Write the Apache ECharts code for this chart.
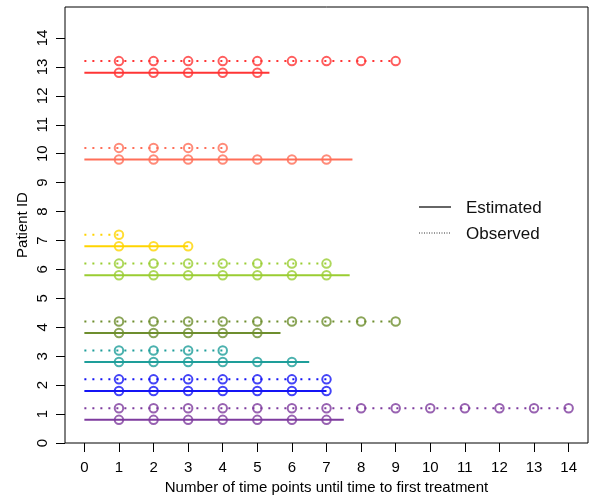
<!DOCTYPE html>
<html>
<head>
<meta charset="utf-8">
<script src="https://cdn.jsdelivr.net/npm/echarts@6/dist/echarts.min.js"></script>
<style>html,body{margin:0;padding:0;background:#fff;}#c{width:589px;height:497px;}</style>
</head>
<body>
<div id="c"></div>
<script>
const patientIds = [1, 2, 3, 4, 6, 7, 10, 13];
const estimatedEnd = [7.5, 7.0, 6.5, 5.67, 7.67, 3.0, 7.75, 5.35];
const estimatedPoints = [7, 7, 6, 5, 7, 3, 7, 5];
const observedEnd = [14, 7, 4, 9, 7, 1, 4, 9];
const xTicks = [0,1,2,3,4,5,6,7,8,9,10,11,12,13,14];
const yTicks = [0,1,2,3,4,5,6,7,8,9,10,11,12,13,14];
const legendNames = ['Estimated', 'Observed'];

const colors = ['#7E3B9E', '#1414F5', '#1E9E9A', '#6E8E2E', '#9ACD32', '#FFD400', '#FF6E58', '#FF3535'];
const FONT = 'Liberation Sans, Arial, sans-serif';
const off = 0.2;

const series = [];
patientIds.forEach((id, i) => {
  const c = colors[i];
  const yE = id - off, yO = id + off;
  series.push({
    type: 'line', silent: true, showSymbol: false, symbol: 'none',
    data: [[0, yE], [estimatedEnd[i], yE]],
    lineStyle: { color: c, width: 2 }, z: 2
  });
  const ep = [];
  for (let k = 1; k <= estimatedPoints[i]; k++) ep.push([k, yE]);
  series.push({
    type: 'scatter', silent: true, symbol: 'circle', symbolSize: 8.5,
    data: ep, itemStyle: { color: 'rgba(0,0,0,0)', borderColor: c, borderWidth: 2 }, z: 3
  });
  series.push({
    type: 'line', silent: true, showSymbol: false, symbol: 'none',
    data: [[0, yO], [observedEnd[i], yO]],
    lineStyle: { color: c, width: 2, type: [2, 6] }, z: 2
  });
  const op = [];
  for (let k = 1; k <= observedEnd[i]; k++) op.push([k, yO]);
  series.push({
    type: 'scatter', silent: true, symbol: 'circle', symbolSize: 8.5,
    data: op, itemStyle: { color: 'rgba(0,0,0,0)', borderColor: c, borderWidth: 2 }, z: 3
  });
});

const chart = echarts.init(document.getElementById('c'), null, { renderer: 'canvas' });
chart.setOption({
  backgroundColor: '#fff',
  animation: false,
  textStyle: { fontFamily: FONT },
  grid: { left: 65, right: 1, top: 7, bottom: 54, show: true, borderColor: '#000', borderWidth: 1, backgroundColor: 'transparent', outerBoundsMode: 'none', containLabel: false },
  graphic: [
    { type: 'line', shape: { x1: 419, y1: 207, x2: 451, y2: 207 }, style: { stroke: '#333', lineWidth: 1.5 }, silent: true },
    { type: 'line', shape: { x1: 419, y1: 233, x2: 451, y2: 233 }, style: { stroke: '#333', lineWidth: 1, lineDash: [1, 1.5] }, silent: true },
    { type: 'text', left: 466, top: 200, style: { text: legendNames[0], font: '17px Liberation Sans, Arial, sans-serif', fill: '#111' }, silent: true },
    { type: 'text', left: 466, top: 226, style: { text: legendNames[1], font: '17px Liberation Sans, Arial, sans-serif', fill: '#111' }, silent: true }
  ],
  xAxis: {
    type: 'value', min: -0.56, max: 14.56,
    splitLine: { show: false },
    axisLine: { show: false, onZero: false },
    axisTick: { show: true, length: 9, lineStyle: { color: '#000', width: 1 }, customValues: xTicks },
    axisLabel: { customValues: xTicks, margin: 17, fontSize: 15, color: '#000', fontFamily: FONT },
    name: 'Number of time points until time to first treatment',
    nameLocation: 'middle', nameGap: 37, nameMoveOverlap: false,
    nameTextStyle: { fontSize: 15, color: '#000', fontFamily: FONT }
  },
  yAxis: {
    type: 'value', min: 0, max: 15.07,
    splitLine: { show: false },
    axisLine: { show: false, onZero: false },
    axisTick: { show: true, length: 9, lineStyle: { color: '#000', width: 1 }, customValues: yTicks },
    axisLabel: { customValues: yTicks, rotate: 90, margin: 15, fontSize: 15, color: '#000', fontFamily: FONT },
    name: 'Patient ID', nameLocation: 'middle', nameGap: 35, nameMoveOverlap: false,
    nameTextStyle: { fontSize: 15, color: '#000', fontFamily: FONT }
  },
  series: series
});
</script>
</body>
</html>
